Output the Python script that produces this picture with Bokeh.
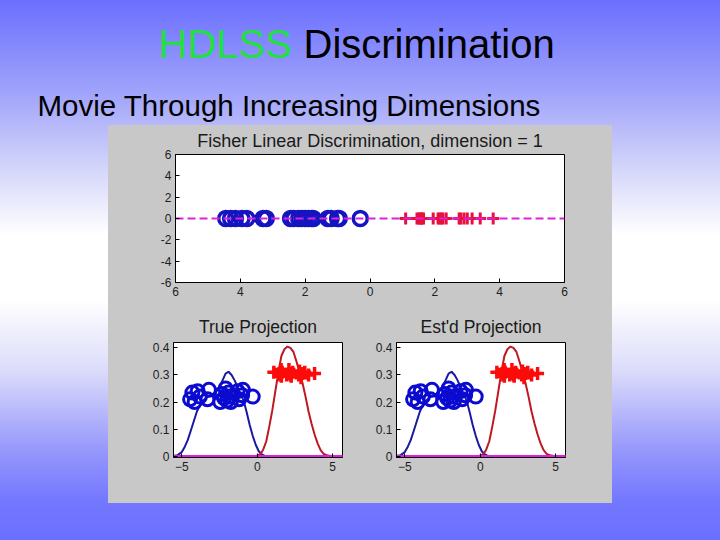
from bokeh.plotting import figure
from bokeh.models import Range1d, FixedTicker, Label, Spacer
from bokeh.layouts import column, row
from bokeh.embed import file_html
from bokeh.resources import INLINE

# ---------------- data ----------------
blue_x = [-4.45, -4.3, -4.15, -3.95, -3.8, -3.3, -3.2, -2.45, -2.35, -2.2,
          -2.1, -2.0, -1.9, -1.8, -1.75, -1.3, -1.2, -1.0, -0.95, -0.3]
red_x = [1.1, 1.45, 1.5, 1.55, 1.6, 1.65, 1.95, 2.1, 2.15, 2.25,
         2.35, 2.75, 2.8, 2.9, 3.0, 3.15, 3.4, 3.8, 2.2, 1.58]
blue_y_jit = [0.21, 0.235, 0.2, 0.24, 0.22, 0.21, 0.245, 0.2, 0.23, 0.215,
              0.25, 0.205, 0.235, 0.22, 0.2, 0.24, 0.21, 0.225, 0.245, 0.22]
red_y_jit = [0.31, 0.305, 0.3, 0.315, 0.295, 0.31, 0.3, 0.32, 0.305, 0.295,
             0.31, 0.3, 0.315, 0.29, 0.305, 0.31, 0.3, 0.305, 0.3, 0.32]
blue_curve_x = [-5.6, -5.3, -5.0, -4.8, -4.6, -4.4, -4.2, -4.0, -3.7, -3.4,
                -3.1, -2.8, -2.5, -2.3, -2.1, -1.9, -1.7, -1.5, -1.3, -1.1,
                -0.9, -0.7, -0.5, -0.3, -0.1, 0.1, 0.3, 0.5, 0.8, 1.2]
blue_curve_y = [0.0, 0.003, 0.015, 0.035, 0.06, 0.095, 0.13, 0.165, 0.2, 0.215,
                0.225, 0.235, 0.255, 0.28, 0.305, 0.312, 0.3, 0.28, 0.255, 0.228,
                0.205, 0.162, 0.115, 0.075, 0.042, 0.018, 0.006, 0.001, 0.0, 0.0]
red_curve_x = [-0.4, -0.1, 0.2, 0.4, 0.6, 0.8, 1.0, 1.2, 1.4, 1.6,
               1.8, 2.0, 2.2, 2.4, 2.6, 2.8, 3.0, 3.2, 3.4, 3.6,
               3.8, 4.0, 4.2, 4.4, 4.7, 5.0, 5.7]
red_curve_y = [0.0, 0.001, 0.006, 0.025, 0.055, 0.11, 0.17, 0.24, 0.31, 0.37,
               0.395, 0.405, 0.4, 0.385, 0.35, 0.31, 0.27, 0.22, 0.165, 0.12,
               0.08, 0.047, 0.022, 0.008, 0.002, 0.0, 0.0]
zero_line_x = [-6, 6]
zero_line_y = [0, 0]
top_ticks = [-6, -4, -2, 0, 2, 4, 6]
top_xtick_labels = ["6", "4", "2", "0", "2", "4", "6"]
top_ytick_labels = ["-6", "-4", "-2", "0", "2", "4", "6"]
bot_xticks = [-5, 0, 5]
bot_yticks = [0, 0.1, 0.2, 0.3, 0.4]
bot_ytick_labels = ["0", "0.1", "0.2", "0.3", "0.4"]
top_zero_y = [0] * len(blue_x)

PANEL = "#C8C8C8"
FONT = "Liberation Sans"


def style_axis(ax):
    ax.axis_line_color = "black"
    ax.major_tick_line_color = "black"
    ax.major_tick_in = 4
    ax.major_tick_out = 0
    ax.minor_tick_line_color = None
    ax.major_label_text_font = FONT
    ax.major_label_text_font_size = "12px"
    ax.major_label_text_color = "#1e1e1e"
    ax.major_label_standoff = 4


def style_title(t, size, standoff):
    t.align = "center"
    t.text_font = FONT
    t.text_font_style = "normal"
    t.text_font_size = size
    t.text_color = "#1a1a1a"
    t.standoff = standoff


# ---------------- header ----------------
HEAD_H = 125
header = figure(width=720, height=HEAD_H, x_range=Range1d(0, 720), y_range=Range1d(0, HEAD_H),
                output_backend="svg", toolbar_location=None, min_border=0,
                x_axis_type=None, y_axis_type=None,
                background_fill_alpha=0, border_fill_alpha=0, outline_line_color=None)
header.title = None
header.grid.visible = False
header.add_layout(Label(x=158, y=HEAD_H - 43.5, text="HDLSS", text_color="#22e040",
                        text_font=FONT, text_font_size="40px", text_baseline="middle"))
header.add_layout(Label(x=303, y=HEAD_H - 43.5, text="Discrimination", text_color="black",
                        text_font=FONT, text_font_size="40px", text_baseline="middle"))
header.add_layout(Label(x=37, y=HEAD_H - 104.5, text="Movie Through Increasing Dimensions",
                        text_color="black", text_font=FONT, text_font_size="29.5px",
                        text_baseline="middle"))

# ---------------- top plot ----------------
p1 = figure(width=504, height=175, x_range=Range1d(-6, 6), y_range=Range1d(-6, 6),
            output_backend="svg", toolbar_location=None,
            min_border_left=67, min_border_right=48, min_border_top=29, min_border_bottom=18,
            background_fill_color="white", border_fill_color=PANEL,
            outline_line_color="black",
            title="Fisher Linear Discrimination, dimension = 1")
style_title(p1.title, "18px", 7)
p1.grid.visible = False
p1.xaxis.ticker = FixedTicker(ticks=top_ticks)
p1.yaxis.ticker = FixedTicker(ticks=top_ticks)
p1.xaxis.major_label_overrides = dict(zip(top_ticks, top_xtick_labels))
p1.yaxis.major_label_overrides = dict(zip(top_ticks, top_ytick_labels))
style_axis(p1.xaxis[0])
style_axis(p1.yaxis[0])
p1.scatter(blue_x, top_zero_y, marker="circle", size=14, fill_color=None,
           line_color="#1414c0", line_width=3.5)
p1.scatter(red_x, top_zero_y, marker="cross", size=12,
           line_color="#e8103c", line_width=3)
p1.line(zero_line_x, zero_line_y, line_color="#e020e0", line_width=2, line_dash="8 4")


# ---------------- bottom plots ----------------
def bottom_plot(title, width, left, right):
    p = figure(width=width, height=203, x_range=Range1d(-5.55, 5.65),
               y_range=Range1d(-0.005, 0.42),
               output_backend="svg", toolbar_location=None,
               min_border_left=left, min_border_right=right, min_border_top=42,
               min_border_bottom=46,
               background_fill_color="white", border_fill_color=PANEL,
               outline_line_color="black", title=title)
    style_title(p.title, "17.5px", 12)
    p.grid.visible = False
    p.xaxis.ticker = FixedTicker(ticks=bot_xticks)
    p.yaxis.ticker = FixedTicker(ticks=bot_yticks)
    p.yaxis.major_label_overrides = dict(zip(bot_yticks, bot_ytick_labels))
    style_axis(p.xaxis[0])
    style_axis(p.yaxis[0])
    p.line(blue_curve_x, blue_curve_y, line_color="#1a1aa0", line_width=2)
    p.line(red_curve_x, red_curve_y, line_color="#c01820", line_width=2)
    p.line(zero_line_x, zero_line_y, line_color="#e020e0", line_width=2.5)
    p.scatter(blue_x, blue_y_jit, marker="circle", size=13, fill_color=None,
              line_color="#0a0ad0", line_width=3)
    p.scatter(red_x, red_y_jit, marker="cross", size=13,
              line_color="#ff0a0a", line_width=3.5)
    return p


p2 = bottom_plot("True Projection", 261, 65, 27)
p3 = bottom_plot("Est'd Projection", 243, 27, 47)

bottom_row = row(p2, p3, styles={"background": PANEL})
panel = column(p1, bottom_row, styles={"background": PANEL})
mid = row(Spacer(width=108, height=378), panel, Spacer(width=108, height=378))
page = column(header, mid, Spacer(width=720, height=37),
              styles={"background": "linear-gradient(to bottom, #6b6fff 0%, #a5a8fa 18.5%, "
                                    "#d5d6fa 31.5%, #ffffff 43.5%, #ffffff 55.6%, #dcdcfa 68.5%, "
                                    "#9698fb 83.3%, #7478ff 92.6%, #6b6fff 100%)"})

open("out.html", "w").write(file_html(page, INLINE))
